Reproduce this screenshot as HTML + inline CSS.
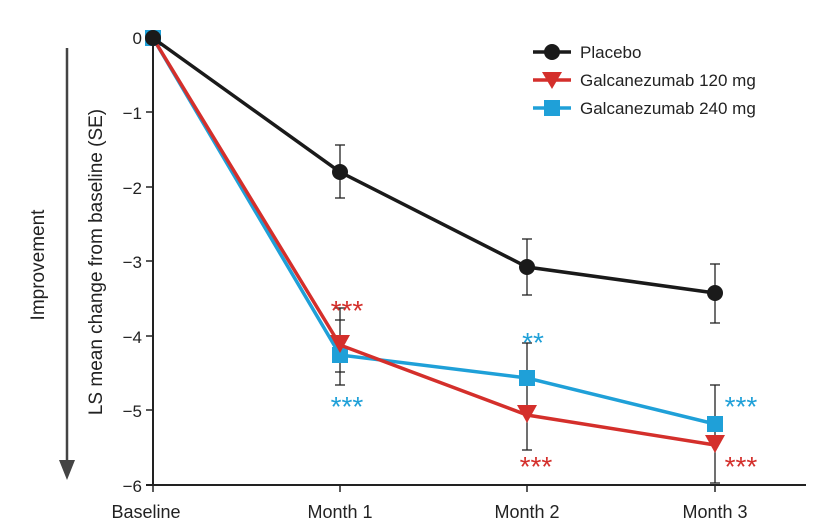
<!DOCTYPE html>
<html><head><meta charset="utf-8"><style>
html,body{margin:0;padding:0;background:#fff;}
svg{display:block;font-family:"Liberation Sans","DejaVu Sans",sans-serif;}
</style></head><body>
<svg width="831" height="529" viewBox="0 0 831 529" xmlns="http://www.w3.org/2000/svg">
<line x1="67" y1="48" x2="67" y2="462" stroke="#444" stroke-width="2.5"/>
<polygon points="59,460 75,460 67,480" fill="#444"/>
<text x="44" y="265" font-size="19" fill="#222" text-anchor="middle" transform="rotate(-90 44 265)">Improvement</text>
<text x="102" y="262" font-size="19" fill="#222" text-anchor="middle" transform="rotate(-90 102 262)">LS mean change from baseline (SE)</text>
<line x1="153" y1="37" x2="153" y2="486" stroke="#222" stroke-width="2"/>
<line x1="146" y1="485" x2="806" y2="485" stroke="#222" stroke-width="2"/>
<g stroke="#222" stroke-width="1.5">
<line x1="146" y1="37.5" x2="153" y2="37.5"/><line x1="146" y1="112" x2="153" y2="112"/>
<line x1="146" y1="187" x2="153" y2="187"/><line x1="146" y1="261" x2="153" y2="261"/>
<line x1="146" y1="336" x2="153" y2="336"/><line x1="146" y1="410" x2="153" y2="410"/>
<line x1="153" y1="485" x2="153" y2="492"/><line x1="340" y1="485" x2="340" y2="492"/>
<line x1="527" y1="485" x2="527" y2="492"/><line x1="715" y1="485" x2="715" y2="492"/>
</g>
<g font-size="17" fill="#222" text-anchor="end">
<text x="142" y="44">0</text><text x="142" y="119">−1</text><text x="142" y="194">−2</text>
<text x="142" y="268">−3</text><text x="142" y="343">−4</text><text x="142" y="417">−5</text><text x="142" y="492">−6</text>
</g>
<g font-size="18" fill="#222" text-anchor="middle">
<text x="146" y="518">Baseline</text><text x="340" y="518">Month 1</text>
<text x="527" y="518">Month 2</text><text x="715" y="518">Month 3</text>
</g>
<g stroke="#222" stroke-width="1.3">
<line x1="340" y1="145" x2="340" y2="198"/><line x1="335" y1="145" x2="345" y2="145"/><line x1="335" y1="198" x2="345" y2="198"/>
<line x1="527" y1="239" x2="527" y2="295"/><line x1="522" y1="239" x2="532" y2="239"/><line x1="522" y1="295" x2="532" y2="295"/>
<line x1="715" y1="264" x2="715" y2="323"/><line x1="710" y1="264" x2="720" y2="264"/><line x1="710" y1="323" x2="720" y2="323"/>
<line x1="340" y1="308" x2="340" y2="385"/><line x1="335" y1="308" x2="345" y2="308"/><line x1="335" y1="385" x2="345" y2="385"/>
<line x1="335" y1="320" x2="345" y2="320"/><line x1="335" y1="372" x2="345" y2="372"/>
<line x1="527" y1="343" x2="527" y2="450"/><line x1="522" y1="343" x2="532" y2="343"/><line x1="522" y1="450" x2="532" y2="450"/>
<line x1="715" y1="385" x2="715" y2="483"/><line x1="710" y1="385" x2="720" y2="385"/><line x1="710" y1="483" x2="720" y2="483"/>
</g>
<polyline points="153,38 340,355 527,378 715,424" fill="none" stroke="#1fa0d8" stroke-width="3.5"/>
<g fill="#1fa0d8">
<rect x="145" y="30" width="16" height="16"/><rect x="332" y="347" width="16" height="16"/>
<rect x="519" y="370" width="16" height="16"/><rect x="707" y="416" width="16" height="16"/>
</g>
<polyline points="153,38 340,345 527,415 715,445" fill="none" stroke="#d42f2b" stroke-width="3.5"/>
<g fill="#d42f2b">
<polygon points="330,335 350,335 340,353"/><polygon points="517,405 537,405 527,423"/>
<polygon points="705,435 725,435 715,453"/>
</g>
<polyline points="153,38 340,172 527,267 715,293" fill="none" stroke="#1a1a1a" stroke-width="3.5"/>
<g fill="#1a1a1a">
<circle cx="153" cy="38" r="8"/><circle cx="340" cy="172" r="8"/>
<circle cx="527" cy="267" r="8"/><circle cx="715" cy="293" r="8"/>
</g>
<g font-size="28">
<text x="347" y="320" fill="#d42f2b" text-anchor="middle">***</text>
<text x="347" y="416" fill="#1fa0d8" text-anchor="middle">***</text>
<text x="533" y="352" fill="#1fa0d8" text-anchor="middle">**</text>
<text x="536" y="476" fill="#d42f2b" text-anchor="middle">***</text>
<text x="741" y="416" fill="#1fa0d8" text-anchor="middle">***</text>
<text x="741" y="476" fill="#d42f2b" text-anchor="middle">***</text>
</g>
<line x1="533" y1="52" x2="571" y2="52" stroke="#1a1a1a" stroke-width="3.5"/>
<circle cx="552" cy="52" r="8" fill="#1a1a1a"/>
<text x="580" y="58" font-size="17" fill="#222">Placebo</text>
<line x1="533" y1="80" x2="571" y2="80" stroke="#d42f2b" stroke-width="3.5"/>
<polygon points="542,72 562,72 552,89" fill="#d42f2b"/>
<text x="580" y="86" font-size="17" fill="#222">Galcanezumab 120 mg</text>
<line x1="533" y1="108" x2="571" y2="108" stroke="#1fa0d8" stroke-width="3.5"/>
<rect x="544" y="100" width="16" height="16" fill="#1fa0d8"/>
<text x="580" y="114" font-size="17" fill="#222">Galcanezumab 240 mg</text>
</svg>
</body></html>
